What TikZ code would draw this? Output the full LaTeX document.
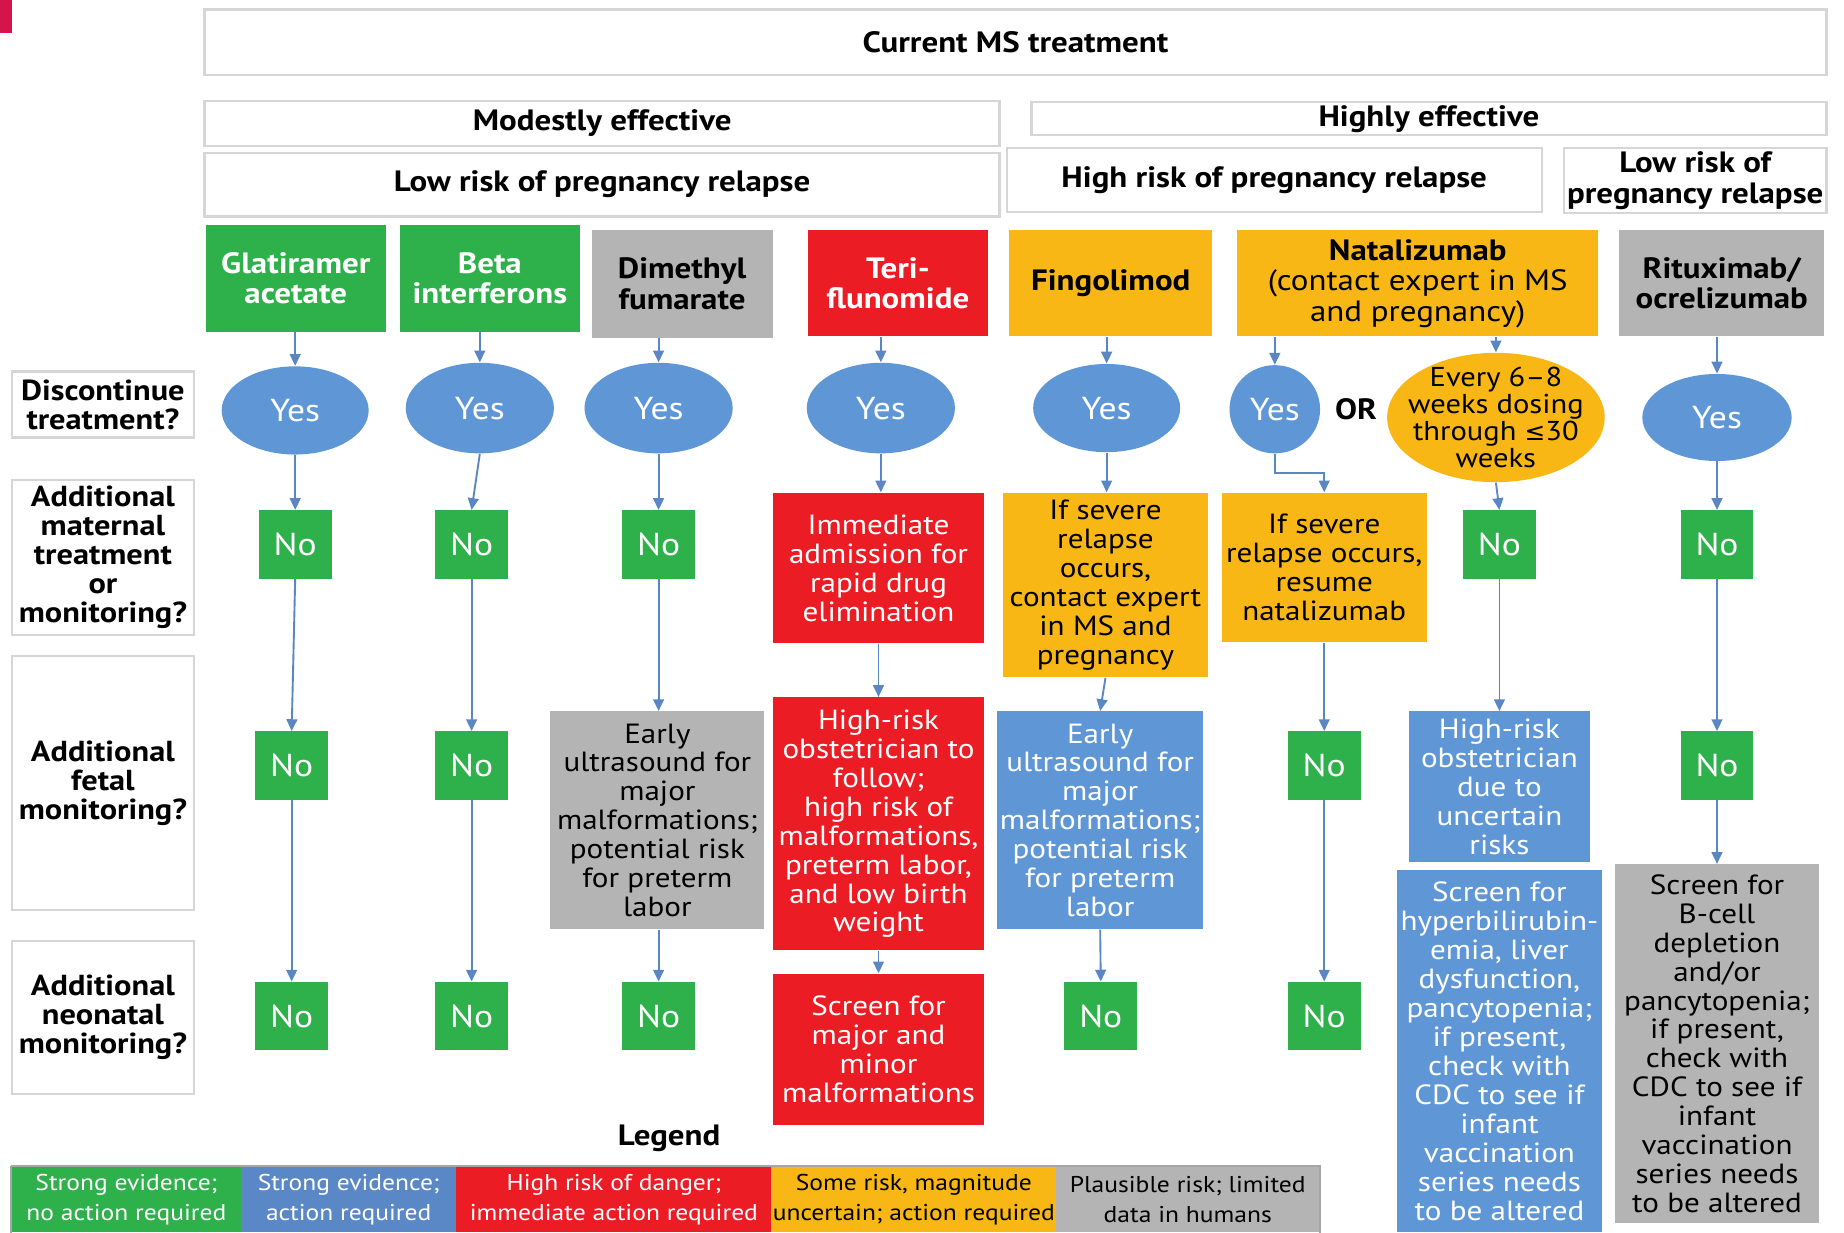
\documentclass[tikz,border=0pt]{standalone}
\usepackage{fontspec}
\setmainfont{PT Sans}[FakeStretch=1.12]
\newfontfamily\symfont{DejaVu Sans}
\usetikzlibrary{shapes.geometric,arrows.meta,calc}

\definecolor{msgreen}{HTML}{2EB04B}
\definecolor{msblue}{HTML}{5F97D6}
\definecolor{legblue}{HTML}{5A88C6}
\definecolor{msred}{HTML}{EC1C24}
\definecolor{msorange}{HTML}{F8B714}
\definecolor{msgray}{HTML}{B4B4B4}
\definecolor{arrowblue}{HTML}{5A86C4}
\definecolor{hdrline}{HTML}{D6D6D6}
\definecolor{markred}{HTML}{D5144B}

\begin{document}
\begin{tikzpicture}[x=0.5pt,y=-0.5pt,
  sz/.style 2 args={minimum width=#1*0.5pt,minimum height=#2*0.5pt},
  base/.style={inner sep=0pt,align=center,font=\fontsize{11.8pt}{12.3pt}\selectfont},
  hdr/.style={base,draw=hdrline,line width=1pt,fill=white,
    font=\fontsize{12.5pt}{13pt}\selectfont\bfseries},
  qbox/.style={hdr,font=\fontsize{12.3pt}{12.4pt}\selectfont\bfseries},
  drug/.style={font=\fontsize{12.5pt}{13pt}\selectfont\bfseries},
  gbox/.style={base,fill=msgreen,text=white},
  bbox/.style={base,fill=msblue,text=white},
  rbox/.style={base,fill=msred,text=white},
  obox/.style={base,fill=msorange,text=black},
  ybox/.style={base,fill=msgray,text=black},
  nobox/.style={gbox,sz={62}{58},font=\fontsize{13.5pt}{14pt}\selectfont},
  yesell/.style={base,ellipse,fill=msblue,text=white,
    font=\fontsize{13.5pt}{14pt}\selectfont},
  legbox/.style={minimum height=28pt,font=\fontsize{9.7pt}{13pt}\selectfont},
  arr/.style={draw=arrowblue,line width=0.8pt,-{Triangle[length=5pt,width=4.6pt]}}
]
\useasboundingbox (0,0) rectangle (1568,1048);
\fill[white] (0,0) rectangle (1568,1048);
\fill[markred] (0,0) rectangle (10,28);

% column headings
\node[hdr,sz={1379}{56}] (cur) at (863.5,36) {Current MS treatment};
\node[hdr,sz={676}{38}] (mod) at (512,105) {Modestly effective};
\node[hdr,sz={676}{28}] (high) at (1215,101) {Highly effective};
\node[hdr,sz={676}{54}] (lowA) at (512,157) {Low risk of pregnancy relapse};
\node[hdr,sz={455}{54}] (highR) at (1083.5,153) {High risk of pregnancy relapse};
\node[hdr,sz={223}{55}] (lowB) at (1441.5,153.5) {Low risk of\\pregnancy relapse};

% drugs
\node[gbox,drug,sz={153}{91}] (d1) at (251.5,236.5) {Glatiramer\\acetate};
\node[gbox,drug,sz={153}{91}] (d2) at (416.5,236.5) {Beta\\interferons};
\node[ybox,drug,sz={154}{91}] (d3) at (580,241.5) {Dimethyl\\fumarate};
\node[rbox,drug,sz={153}{90}] (d4) at (763.5,241) {Teri-\\flunomide};
\node[obox,drug,sz={173}{90}] (d5) at (944.5,241) {Fingolimod};
\node[obox,sz={307}{90},font=\fontsize{12.5pt}{13pt}\selectfont] (d6) at (1205.5,241)
  {\textbf{Natalizumab}\\(contact expert in MS\\and pregnancy)};
\node[ybox,drug,sz={174}{90}] (d7) at (1464,241) {Rituximab/\\ocrelizumab};

% row questions
\node[qbox,sz={155}{56}] (q1) at (87.5,344) {Discontinue\\treatment?};
\node[qbox,sz={155}{132}] (q2) at (87.5,474) {Additional\\maternal\\treatment\\or\\monitoring?};
\node[qbox,sz={155}{216}] (q3) at (87.5,666) {Additional\\fetal\\monitoring?};
\node[qbox,sz={155}{130}] (q4) at (87.5,865) {Additional\\neonatal\\monitoring?};

% discontinue treatment
\node[yesell,sz={125}{75}] (y1) at (251,349) {Yes};
\node[yesell,sz={126}{77}] (y2) at (408,347) {Yes};
\node[yesell,sz={126}{77}] (y3) at (560,347) {Yes};
\node[yesell,sz={126}{77}] (y4) at (749,347) {Yes};
\node[yesell,sz={125}{75}] (y5) at (941,347) {Yes};
\node[yesell,sz={77}{75}] (y6) at (1084,348) {Yes};
\node[base,font=\fontsize{12.5pt}{13pt}\selectfont\bfseries] (or) at (1153,348) {OR};
% dosing ellipse: fixed-size shape with its text set on top
\node[base,ellipse,fill=msorange,sz={185}{110}] (ev) at (1272,355) {};
\node[base,font=\fontsize{11.6pt}{11.5pt}\selectfont] (evt) at (ev.center)
  {Every 6–8\\weeks dosing\\through {\symfont\fontsize{10.5pt}{12pt}\selectfont ≤}30\\weeks};
\node[yesell,sz={127}{74}] (y7) at (1460,355) {Yes};

% maternal treatment or monitoring
\node[nobox] (m1) at (251,463) {No};
\node[nobox] (m2) at (401,463) {No};
\node[nobox] (m3) at (560,463) {No};
\node[rbox,sz={180}{128}] (m4) at (747,483) {Immediate\\admission for\\rapid drug\\elimination};
\node[obox,sz={174}{157}] (m5) at (940,497.5) {If severe\\relapse\\occurs,\\contact expert\\in MS and\\pregnancy};
\node[obox,sz={174}{127}] (m6) at (1126,482.5) {If severe\\relapse occurs,\\resume\\natalizumab};
\node[nobox] (m6b) at (1275,463) {No};
\node[nobox] (m7) at (1460,463) {No};

% fetal monitoring
\node[nobox] (f1) at (248,651) {No};
\node[nobox] (f2) at (401,651) {No};
\node[ybox,sz={182}{185}] (f3) at (559,697.5) {Early\\ultrasound for\\major\\malformations;\\potential risk\\for preterm\\labor};
\node[rbox,sz={180}{215}] (f4) at (747,700.5) {High-risk\\obstetrician to\\follow;\\high risk of\\malformations,\\preterm labor,\\and low birth\\weight};
\node[bbox,sz={175}{185}] (f5) at (935.5,697.5) {Early\\ultrasound for\\major\\malformations;\\potential risk\\for preterm\\labor};
\node[nobox] (f6) at (1126,651) {No};
\node[bbox,sz={154}{128}] (f6b) at (1275,669) {High-risk\\obstetrician\\due to\\uncertain\\risks};
\node[nobox] (f7) at (1460,651) {No};

% neonatal monitoring
\node[nobox] (n1) at (248,864) {No};
\node[nobox] (n2) at (401,864) {No};
\node[nobox] (n3) at (560,864) {No};
\node[rbox,sz={180}{129}] (n4) at (747,892.5) {Screen for\\major and\\minor\\malformations};
\node[nobox] (n5) at (936,864) {No};
\node[nobox] (n6) at (1126,864) {No};
\node[bbox,sz={174}{308}] (n6b) at (1275,894) {Screen for\\hyperbilirubin-\\emia, liver\\dysfunction,\\pancytopenia;\\if present,\\check with\\CDC to see if\\infant\\vaccination\\series needs\\to be altered};
\node[ybox,sz={174}{305}] (n7) at (1460,887.5) {Screen for\\B-cell\\depletion\\and/or\\pancytopenia;\\if present,\\check with\\CDC to see if\\infant\\vaccination\\series needs\\to be altered};

% legend
\node[base,font=\fontsize{12.5pt}{13pt}\selectfont\bfseries] (leg) at (569,968) {Legend};
\node[gbox,legbox,minimum width=97.5pt] (L1) at (107.5,1020) {Strong evidence;\\no action required};
\node[base,fill=legblue,text=white,legbox,minimum width=91.5pt] (L2) at (296.5,1020) {Strong evidence;\\action required};
\node[rbox,legbox,minimum width=134pt] (L3) at (522,1020) {High risk of danger;\\immediate action required};
\node[obox,legbox,minimum width=121pt] (L4) at (777,1020) {Some risk, magnitude\\uncertain; action required};
\node[ybox,legbox,minimum width=112pt] (L5) at (1010,1020) {Plausible risk; limited\\data in humans};
\draw[gray!70,line width=0.8pt] (L1.north west) -- (L5.north east) -- (L5.south east);
\draw[gray!70,line width=0.8pt] (L1.north west) -- (L1.south west);

% connectors: drug to first decision
\draw[arr] (d1.south -| y1) -- (y1.north);
\draw[arr] (d2.south -| y2) -- (y2.north);
\draw[arr] (d3.south -| y3) -- (y3.north);
\draw[arr] (d4.south -| y4) -- (y4.north);
\draw[arr] (d5.south -| y5) -- (y5.north);
\draw[arr] (d6.south -| y6) -- (y6.north);
\draw[arr] (d6.south -| ev) -- (ev.north);
\draw[arr] (d7.south -| y7) -- (y7.north);

% connectors: decision to maternal row
\draw[arr] (y1.south) -- (m1.north);
\draw[arr] (y2.south) -- (m2.north);
\draw[arr] (y3.south) -- (m3.north);
\draw[arr] (y4.south) -- (m4.north -| y4);
\draw[arr] (y5.south) -- (m5.north -| y5);
\draw[arr] (y6.south) -- ++(0,16) -| (m6.north);
\draw[arr] (ev.south) -- (m6b.north);
\draw[arr] (y7.south) -- (m7.north);

% connectors: maternal to fetal row
\draw[arr] (m1.south) -- (f1.north);
\draw[arr] (m2.south) -- (f2.north);
\draw[arr] (m3.south) -- (f3.north -| m3);
\draw[arr] (m4.south) -- (f4.north);
\draw[arr] (m5.south) -- (f5.north);
\draw[arr] (m6.south) -- (f6.north);
\draw[arr] (m6b.south) -- (f6b.north);
\draw[arr] (m7.south) -- (f7.north);

% connectors: fetal to neonatal row
\draw[arr] (f1.south) -- (n1.north);
\draw[arr] (f2.south) -- (n2.north);
\draw[arr] (f3.south -| n3) -- (n3.north);
\draw[arr] (f4.south) -- (n4.north);
\draw[arr] (f5.south) -- (n5.north);
\draw[arr] (f6.south) -- (n6.north);
\draw[arr] (f7.south) -- (n7.north);
\end{tikzpicture}
\end{document}
